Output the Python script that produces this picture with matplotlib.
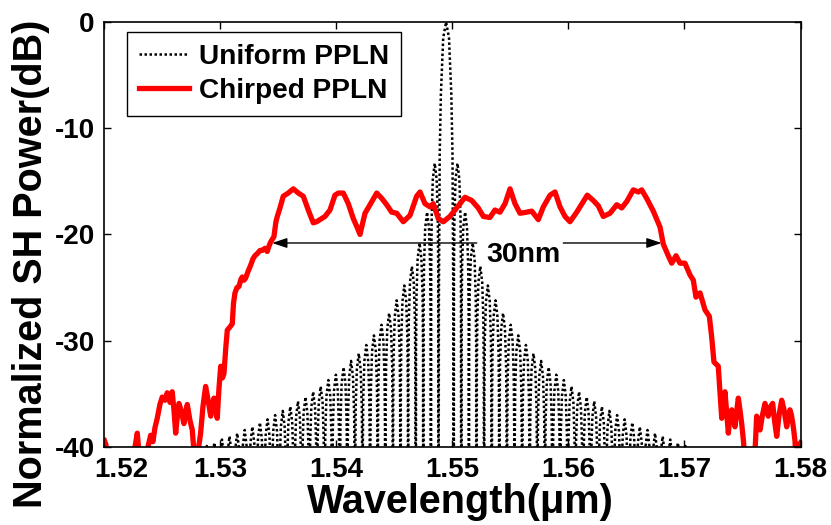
import matplotlib
matplotlib.use('Agg')
import matplotlib.pyplot as plt
import matplotlib.transforms as mtransforms
import numpy as np

plt.rcParams['font.family'] = ['Liberation Sans', 'DejaVu Sans']
plt.rcParams['font.weight'] = 'bold'
plt.rcParams['axes.unicode_minus'] = False

# ---- uniform PPLN: main lobe + side lobe peaks ----
uni_main_um = [1.548795, 1.548830, 1.548900, 1.549000, 1.549200, 1.54945,
               1.549700, 1.549900, 1.550000, 1.550070, 1.550105]
uni_main_db = [-60, -26.0, -12.4, -6.8, -1.5, 0.0, -1.5, -6.8, -12.4, -26.0, -60]

# side lobe peak positions, counted outward from the main lobe
uni_lobe_um_left = [1.54847, 1.54781, 1.54716, 1.54650, 1.54585, 1.54519, 1.54454,
                    1.54388, 1.54323, 1.54257, 1.54192, 1.54126, 1.54061, 1.53995,
                    1.53930, 1.53864, 1.53799, 1.53733, 1.53668, 1.53602, 1.53537,
                    1.53471, 1.53406, 1.53340, 1.53275, 1.53209, 1.53144, 1.53078,
                    1.53013, 1.52947, 1.52882]
uni_lobe_um_right = [1.55043, 1.55109, 1.55174, 1.55240, 1.55305, 1.55371, 1.55436,
                     1.55502, 1.55567, 1.55633, 1.55698, 1.55764, 1.55829, 1.55895,
                     1.55960, 1.56026, 1.56091, 1.56157, 1.56222, 1.56288, 1.56353,
                     1.56419, 1.56484, 1.56550, 1.56615, 1.56681, 1.56746, 1.56812,
                     1.56877, 1.56943, 1.57008]
uni_lobe_db = [-13.3, -17.9, -20.8, -23.0, -24.8, -26.2, -27.4, -28.5, -29.5, -30.4,
               -31.2, -31.9, -32.5, -33.2, -33.7, -34.3, -34.8, -35.3, -35.7, -36.2,
               -36.6, -37.0, -37.4, -37.7, -38.1, -38.4, -38.7, -39.0, -39.3, -39.6,
               -39.9]
uni_lobe_period_um = 0.000655

# ---- chirped PPLN ----
chirp_um = [1.52000, 1.52013, 1.52030, 1.52246, 1.52263, 1.52283, 1.52297, 1.52315,
            1.52358, 1.52375, 1.52398, 1.52418, 1.52435, 1.52455, 1.52478, 1.52498,
            1.52522, 1.52541, 1.52565, 1.52584, 1.52599, 1.52614, 1.52629, 1.52642,
            1.52659, 1.52685, 1.52698, 1.52714, 1.52737, 1.52757, 1.52772, 1.52789,
            1.52806, 1.52829, 1.52849, 1.52872, 1.52892, 1.52916, 1.52931, 1.52944,
            1.52961, 1.52972, 1.52987, 1.53002, 1.53017, 1.53030, 1.53047, 1.53059,
            1.53082, 1.53102, 1.53112, 1.53125, 1.53142, 1.53159, 1.53177, 1.53188,
            1.53203, 1.53217, 1.53237, 1.53260, 1.53280, 1.53297, 1.53317, 1.53341,
            1.53360, 1.53384, 1.53403, 1.53418, 1.53433, 1.53461, 1.53478, 1.53490,
            1.53513, 1.53541, 1.53584, 1.53628, 1.53671, 1.53714, 1.53757, 1.53800,
            1.53829, 1.53858, 1.53901, 1.53944, 1.53987, 1.54016, 1.54059, 1.54102,
            1.54145, 1.54177, 1.54203, 1.54224, 1.54246, 1.54289, 1.54347, 1.54390,
            1.54433, 1.54476, 1.54519, 1.54576, 1.54634, 1.54691, 1.54720, 1.54763,
            1.54806, 1.54834, 1.54878, 1.54921, 1.54978, 1.55036, 1.55108, 1.55166,
            1.55222, 1.55266, 1.55323, 1.55366, 1.55409, 1.55453, 1.55496, 1.55539,
            1.55582, 1.55640, 1.55683, 1.55740, 1.55783, 1.55841, 1.55884, 1.55927,
            1.55970, 1.56013, 1.56071, 1.56128, 1.56162, 1.56214, 1.56257, 1.56300,
            1.56358, 1.56416, 1.56459, 1.56502, 1.56559, 1.56602, 1.56631, 1.56674,
            1.56731, 1.56789, 1.56817, 1.56860, 1.56890, 1.56927, 1.56961, 1.57004,
            1.57047, 1.57076, 1.57099, 1.57134, 1.57177, 1.57214, 1.57234, 1.57254,
            1.57291, 1.57306, 1.57321, 1.57336, 1.57349, 1.57362, 1.57378, 1.57392,
            1.57407, 1.57422, 1.57435, 1.57448, 1.57464, 1.57478, 1.57493, 1.57509,
            1.57522, 1.57599, 1.57612, 1.57622, 1.57634, 1.57651, 1.57672, 1.57694,
            1.57707, 1.57722, 1.57741, 1.57760, 1.57776, 1.57795, 1.57815, 1.57838,
            1.57858, 1.57881, 1.57897, 1.57909, 1.57922, 1.57938, 1.57953, 1.57961,
            1.57978, 1.57987, 1.58000]
chirp_db = [-39.4, -39.8, -42.0, -42.0, -40.0, -38.7, -40.5, -42.0,
            -42.0, -40.0, -38.9, -39.5, -38.2, -37.3, -36.0, -35.3,
            -35.6, -34.9, -35.8, -34.8, -36.5, -38.7, -37.0, -35.9,
            -36.5, -37.8, -36.8, -36.0, -37.5, -38.4, -40.5, -42.0,
            -40.5, -38.7, -36.2, -34.3, -35.5, -37.1, -36.0, -35.4,
            -36.5, -37.3, -34.5, -32.4, -33.5, -33.1, -30.5, -29.0,
            -28.7, -28.4, -26.5, -25.5, -25.0, -24.9, -24.2, -24.0,
            -24.3, -24.1, -23.5, -22.9, -22.3, -22.0, -21.8, -21.5,
            -21.5, -21.3, -21.6, -21.1, -20.7, -20.2, -18.8, -18.3,
            -17.5, -16.4, -16.1, -15.7, -16.1, -16.4, -17.7, -18.9,
            -18.8, -18.6, -18.3, -17.7, -16.3, -16.1, -16.1, -17.1,
            -18.5, -19.3, -20.0, -19.0, -18.0, -17.2, -16.1, -16.6,
            -17.2, -17.9, -18.0, -18.8, -18.2, -16.4, -16.0, -17.1,
            -17.4, -17.1, -18.5, -18.8, -18.3, -17.5, -16.5, -16.8,
            -17.5, -18.3, -18.4, -17.7, -17.9, -17.1, -15.7, -17.1,
            -18.0, -17.9, -17.8, -18.6, -17.4, -16.3, -16.0, -17.4,
            -18.3, -18.8, -17.9, -16.9, -16.3, -16.8, -17.3, -18.3,
            -18.0, -17.2, -17.5, -16.9, -15.8, -16.0, -15.8, -16.6,
            -17.8, -19.3, -20.9, -22.0, -22.7, -22.0, -22.7, -22.7,
            -23.8, -24.3, -25.9, -25.5, -27.1, -27.7, -29.6, -32.0,
            -32.4, -34.9, -37.3, -35.5, -34.8, -36.5, -38.7, -37.0,
            -36.5, -37.5, -38.1, -36.8, -35.4, -36.5, -37.8, -39.5,
            -42.0, -42.0, -39.5, -37.1, -37.8, -38.4, -37.0, -35.9,
            -36.5, -37.1, -36.2, -35.9, -37.5, -39.0, -37.0, -35.6,
            -36.5, -38.1, -37.0, -36.5, -37.0, -38.1, -39.5, -42.0,
            -42.0, -39.8, -39.6]

xticks = [1.52, 1.53, 1.54, 1.55, 1.56, 1.57, 1.58]
yticks = [-40, -30, -20, -10, 0]

# bandwidth marker
bw_y = -20.8
bw_left_tip, bw_left_tail = 1.53445, 1.55209
bw_right_tail, bw_right_tip = 1.55955, 1.56803
bw_label = '30nm'
bw_label_pos = (1.5561, -21.9)

# shape of one side lobe: fraction of period vs. dB below its peak
lobe_frac = [-0.5, -0.46, -0.4, -0.25, 0.0, 0.25, 0.4, 0.46, 0.5]
lobe_drop = [-60, -10, -5, -1.5, 0, -1.5, -5, -10, -60]


def lobes(centres, peaks):
    xs, ys = [], []
    for c, p in zip(centres, peaks):
        xs += [c + f * uni_lobe_period_um for f in lobe_frac]
        ys += [p + d for d in lobe_drop]
    return xs, ys


lx, ly = lobes(uni_lobe_um_left[::-1], uni_lobe_db[::-1])
rx, ry = lobes(uni_lobe_um_right, uni_lobe_db)
uni_x = np.array(lx + uni_main_um + rx)
uni_y = np.array(ly + uni_main_db + ry)

fig = plt.figure(figsize=(8.31, 5.25), dpi=100)
ax = fig.add_axes([0.1257, 0.1486, 0.8376, 0.8095])

ax.plot(uni_x, uni_y, color='k', lw=1.8, linestyle=(0, (1, 1.0)), label='Uniform PPLN')
ax.plot(chirp_um, chirp_db, color='#ff0000', lw=3.8, label='Chirped PPLN')

ax.annotate('', xy=(bw_left_tip, bw_y), xytext=(bw_left_tail, bw_y),
            arrowprops=dict(arrowstyle='-|>,head_length=0.9,head_width=0.3',
                            color='k', lw=1, shrinkA=0, shrinkB=0))
ax.annotate('', xy=(bw_right_tip, bw_y), xytext=(bw_right_tail, bw_y),
            arrowprops=dict(arrowstyle='-|>,head_length=0.9,head_width=0.3',
                            color='k', lw=1, shrinkA=0, shrinkB=0))
ax.text(bw_label_pos[0], bw_label_pos[1], bw_label, fontsize=20.5, fontweight='bold',
        ha='center', va='center')

ax.set_xlim(1.52, 1.58)
ax.set_ylim(-40, 0)
ax.set_xticks(xticks)
ax.set_xticklabels(['%.2f' % t for t in xticks])
ax.set_yticks(yticks)
ax.set_yticklabels(['%d' % t for t in yticks])
ax.tick_params(direction='in', length=5, width=1, top=True, right=True,
               labelsize=20, pad=7)
for s in ax.spines.values():
    s.set_linewidth(1.2)

# first x label sits a bit right so it clears the "-40"
first = ax.get_xticklabels()[0]
first.set_transform(first.get_transform() +
                    mtransforms.ScaledTranslation(12 / 72, 0, fig.dpi_scale_trans))

ax.set_xlabel('Wavelength(\u03bcm)', fontsize=28.5, fontweight='bold')
ax.set_ylabel('Normalized SH Power(dB)', fontsize=28.5, fontweight='bold')
ax.xaxis.set_label_coords(0.511, -0.085)
ax.yaxis.set_label_coords(-0.078, 0.43)

leg = ax.legend(loc='upper left', bbox_to_anchor=(0.032, 0.977), borderaxespad=0,
                prop={'weight': 'bold', 'size': 20.2}, fancybox=False,
                framealpha=1, edgecolor='k', handlelength=1.8, handletextpad=0.35,
                borderpad=0.42, labelspacing=0.3)
leg.get_frame().set_linewidth(1)

fig.savefig('out.png', dpi=100)
